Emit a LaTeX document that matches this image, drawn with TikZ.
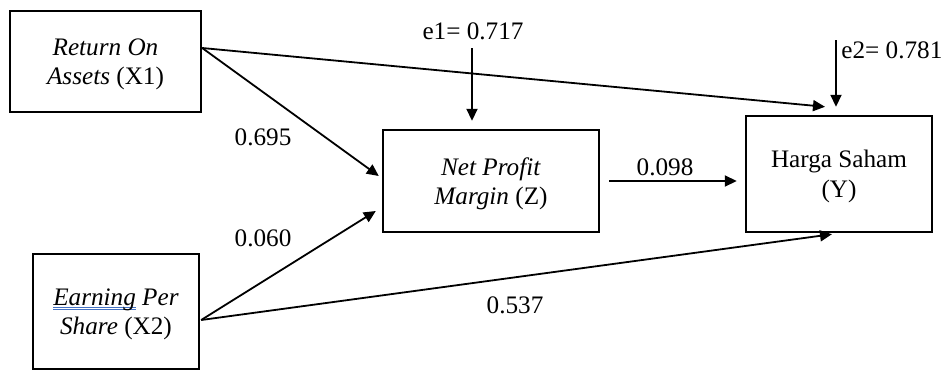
\documentclass[tikz,border=0pt]{standalone}
\usepackage{fontspec}
\setmainfont{Liberation Serif}
\usepackage{tikz}
\usetikzlibrary{shapes,calc,arrows.meta}
\definecolor{subrayado}{RGB}{68,114,196}
\newsavebox\palabra
\newcommand\marcaul[1]{\sbox\palabra{#1}%
\rlap{\color{subrayado}\rule[-1.3pt]{\wd\palabra}{.4pt}}%
\rlap{\color{subrayado}\rule[-2.5pt]{\wd\palabra}{.4pt}}\usebox\palabra}

\begin{document}
\begin{tikzpicture}[x=.5pt,y=-.5pt,
caja/.style={draw,line width=1.2pt,align=center,inner sep=0pt,font=\fontsize{12.6}{14.8}\selectfont,
  text depth=-1pt},
coef/.style={inner sep=1pt,font=\fontsize{12.6}{14.8}\selectfont},
flecha/.style={line width=.9pt,-{Triangle[length=6pt,width=5.5pt]}}]
\useasboundingbox (0,0) rectangle (944,370);
%
% variables
\node[caja,minimum width=95.5pt,minimum height=50.5pt] (X1) at (105.5,61.5)
{\textit{Return On}\\\textit{Assets} (X1)};
\node[caja,minimum width=83pt,minimum height=57.5pt] (X2) at (116,311.5)
{\textit{\marcaul{Earning} Per}\\\textit{Share} (X2)};
\node[caja,minimum width=108pt,minimum height=51pt] (Z) at (491,181)
{\textit{Net Profit}\\\textit{Margin} (Z)};
\node[caja,minimum width=93pt,minimum height=58pt] (Y) at (839,174)
{Harga Saham\\(Y)};
%
% coeficientes
\node[coef] (b1) at (263,137) {0.695};
\node[coef] (b2) at (263,238) {0.060};
\node[coef] (b3) at (665,167) {0.098};
\node[coef] (b4) at (515,305) {0.537};
\node[coef] (e1) at (473,31) {e1= 0.717};
\node[coef,anchor=west] (e2) at (839,50) {e2= 0.781};
%
% caminos
\coordinate (roa) at ($(X1.east)+(0,-13.5)$);
\coordinate (eps) at ($(X2.east)+(1,8.5)$);
\coordinate (e1a) at (472,48);
\coordinate (e2a) at (836,40);
\draw[flecha] (roa) -- ($(Z.west)+(-3,-5)$);
\draw[flecha] (roa) -- ($(Y.north)+(-14,-8)$);
\draw[flecha] (eps) -- ($(Z.west)+(-6,30)$);
\draw[flecha] (eps) -- ($(Y.south)+(-7,1)$);
\draw[flecha,shorten <=4.5pt,shorten >=4pt] (Z.east) -- (Z.east -| Y.west);
\draw[flecha] (e1a) -- ($(e1a |- Z.north)+(0,-8)$);
\draw[flecha] (e2a) -- ($(e2a |- Y.north)+(0,-8)$);
\end{tikzpicture}
\end{document}
